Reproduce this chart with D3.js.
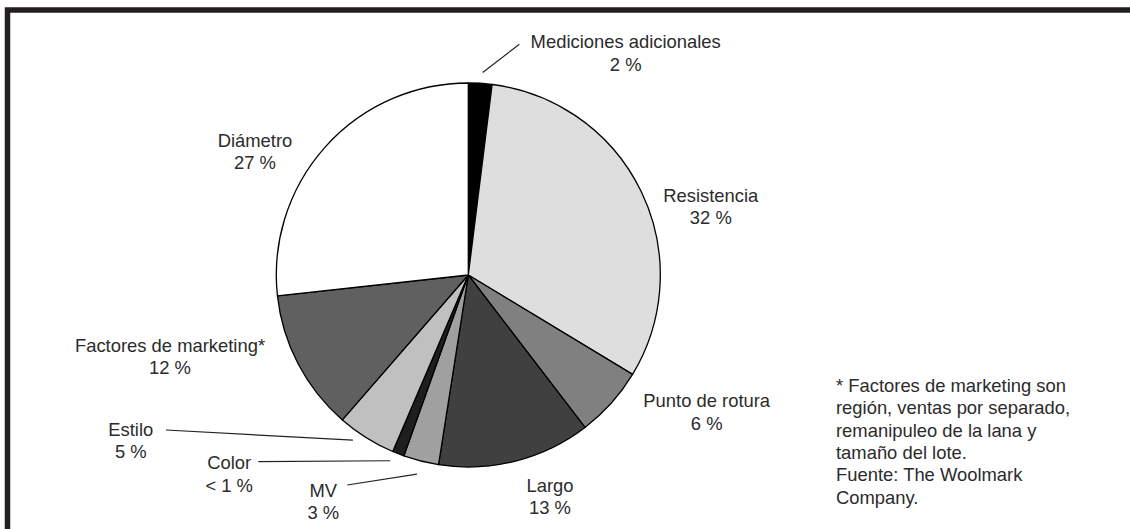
<!DOCTYPE html>
<html>
<head>
<meta charset="utf-8">
<script src="https://cdn.jsdelivr.net/npm/d3@7"></script>
<style>
html,body{margin:0;padding:0;background:#fff;}
svg{display:block;}
text{font-family:"Liberation Sans",Arial,Helvetica,sans-serif;}
</style>
</head>
<body>
<svg id="chart" width="1130" height="529"></svg>
<script>
// ---- data ----
const categories = ["Mediciones adicionales","Resistencia","Punto de rotura","Largo","MV","Color","Estilo","Factores de marketing*","Diámetro"];
const values = [2, 32, 6, 13, 3, 1, 5, 12, 27];
const pctLabels = ["2 %","32 %","6 %","13 %","3 %","< 1 %","5 %","12 %","27 %"];
const fills = ["#000000","#dedede","#808080","#404040","#a0a0a0","#1e1e1e","#c0c0c0","#606060","#ffffff"];
const footnote = ["* Factores de marketing son","región, ventas por separado,","remanipuleo de la lana y","tamaño del lote.","Fuente: The Woolmark","Company."];

// ---- layout ----
const W = 1130, H = 529;
const cx = 468.3, cy = 275, R = 192;
const fontSize = 18.4, lineH = 22.3;
const labelLayout = {
  "Mediciones adicionales": {x:625.7, y:48.3},
  "Resistencia": {x:710.8, y:201.5},
  "Punto de rotura": {x:706.7, y:407.3},
  "Largo": {x:550, y:491.7},
  "MV": {x:323.3, y:496.7},
  "Color": {x:229.2, y:469.3},
  "Estilo": {x:130.8, y:436},
  "Factores de marketing*": {x:170, y:351.7},
  "Diámetro": {x:255, y:146.7}
};
// leader lines: outer end in px, inner end as (fraction along slice, radius)
const leaderLayout = {
  "Mediciones adicionales": {x:519.3, y:44.3, t:0.57, r:203},
  "Estilo": {x:166, y:430, t:0.66, r:201.5},
  "Color": {x:258.3, y:461.7, t:0.9, r:201.5},
  "MV": {x:347.3, y:485, t:0.52, r:205.6}
};

const svg = d3.select("#chart");

// frame
svg.append("rect")
  .attr("x", 7.5).attr("y", 10)
  .attr("width", W + 20).attr("height", H + 20)
  .attr("fill", "none")
  .attr("stroke", "#231f20")
  .attr("stroke-width", 5.5);

const data = categories.map((c, i) => ({cat: c, value: values[i], pct: pctLabels[i], fill: fills[i]}));
const pie = d3.pie().sort(null).value(d => d.value);
const arcs = pie(data);
const arc = d3.arc().innerRadius(0).outerRadius(R);

const g = svg.append("g").attr("transform", `translate(${cx},${cy})`);
g.selectAll("path.slice")
  .data(arcs)
  .join("path")
  .attr("class", "slice")
  .attr("d", arc)
  .attr("fill", d => d.data.fill)
  .attr("stroke", "#000")
  .attr("stroke-width", 1.3)
  .attr("stroke-linejoin", "round");

// leader lines
arcs.forEach(a => {
  const L = leaderLayout[a.data.cat];
  if (!L) return;
  const ang = a.startAngle + L.t * (a.endAngle - a.startAngle);
  const p = d3.pointRadial(ang, L.r);
  svg.append("line")
    .attr("x1", L.x).attr("y1", L.y)
    .attr("x2", cx + p[0]).attr("y2", cy + p[1])
    .attr("stroke", "#222")
    .attr("stroke-width", 1.2);
});

// labels
arcs.forEach(a => {
  const P = labelLayout[a.data.cat];
  const t = svg.append("text")
    .attr("text-anchor", "middle")
    .attr("font-size", fontSize)
    .attr("fill", "#2b2b2b");
  t.append("tspan").attr("x", P.x).attr("y", P.y).text(a.data.cat);
  t.append("tspan").attr("x", P.x).attr("y", P.y + lineH).text(a.data.pct);
});

// footnote
const fn = svg.append("text")
  .attr("font-size", fontSize)
  .attr("fill", "#2b2b2b");
footnote.forEach((line, i) => {
  fn.append("tspan").attr("x", 836).attr("y", 392 + i * lineH).text(line);
});
</script>
</body>
</html>
